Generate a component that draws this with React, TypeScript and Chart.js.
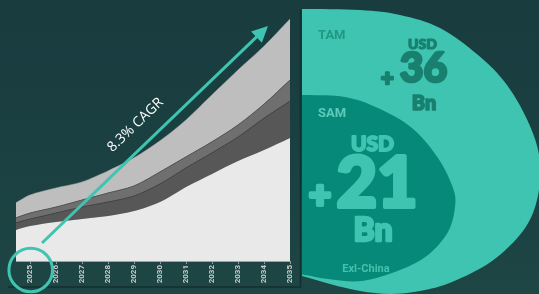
import React, { useEffect, useRef } from "react";
import { Chart, registerables } from "chart.js";

Chart.register(...registerables);

// ---- data ----
const years = [2024.46, 2025, 2026, 2027, 2028, 2029, 2030, 2031, 2032, 2033, 2034, 2035];
const tickYears = [2025, 2026, 2027, 2028, 2029, 2030, 2031, 2032, 2033, 2034, 2035];
const baseSeries = [12.4, 13.9, 15.5, 16.7, 17.9, 19.9, 23.5, 29.5, 34.7, 39.8, 44.2, 49.0];
const darkSeries = [2.8, 2.8, 3.6, 4.8, 5.6, 6.0, 7.2, 7.6, 8.4, 9.6, 12.7, 14.7];
const midSeries = [2.0, 2.4, 2.4, 2.8, 3.6, 4.0, 4.8, 4.4, 4.4, 4.8, 5.6, 8.4];
const lightSeries = [6.0, 7.2, 7.6, 7.2, 8.8, 11.2, 12.4, 14.7, 18.7, 21.9, 23.1, 24.3];

const cagrLabel = "8.3% CAGR";
const tamLabel = "TAM";
const tamValue = "36";
const samLabel = "SAM";
const samValue = "21";
const currencyLabel = "USD";
const unitLabel = "Bn";
const samNote = "Exl-China";

const TEAL = "#3fc4b1";
const DARK_TEAL = "#07897a";
const FONT = "Roboto, 'DejaVu Sans', sans-serif";
const HEAVY = "Lato, Roboto, sans-serif";

function smoothPath(ctx: CanvasRenderingContext2D, pts: number[][]) {
  ctx.moveTo(pts[0][0], pts[0][1]);
  for (let i = 0; i < pts.length - 1; i++) {
    const p0 = pts[Math.max(0, i - 1)];
    const p1 = pts[i];
    const p2 = pts[i + 1];
    const p3 = pts[Math.min(pts.length - 1, i + 2)];
    const t = 6;
    ctx.bezierCurveTo(
      p1[0] + (p2[0] - p0[0]) / t,
      p1[1] + (p2[1] - p0[1]) / t,
      p2[0] - (p3[0] - p1[0]) / t,
      p2[1] - (p3[1] - p1[1]) / t,
      p2[0],
      p2[1]
    );
  }
}

const outerPts = [
  [270, 9], [302, 9], [360, 10], [400, 15], [440, 28], [478, 55], [507, 85], [530, 126],
  [540, 162], [537, 200], [523, 231], [492, 261], [452, 282], [420, 291], [390, 294],
  [360, 291], [330, 284], [302, 276], [270, 268],
];
const innerPts = [
  [270, 95], [305, 95], [345, 97], [378, 108], [412, 128], [438, 158], [453, 188],
  [455, 207], [448, 232], [428, 255], [400, 270], [362, 281], [328, 279], [305, 275], [270, 270],
];

const decorPlugin = {
  id: "decor",
  afterDraw(chart: any) {
    const ctx: CanvasRenderingContext2D = chart.ctx;
    ctx.save();

    // frame lines
    ctx.strokeStyle = "#12302f";
    ctx.lineWidth = 1.5;
    ctx.beginPath();
    ctx.moveTo(300.5, 10);
    ctx.lineTo(300.5, 287);
    ctx.lineTo(8, 287);
    ctx.stroke();

    // TAM / SAM shapes
    ctx.save();
    ctx.beginPath();
    ctx.rect(302, 0, 240, 294);
    ctx.clip();
    ctx.fillStyle = TEAL;
    ctx.beginPath();
    smoothPath(ctx, outerPts);
    ctx.closePath();
    ctx.fill();
    ctx.fillStyle = DARK_TEAL;
    ctx.beginPath();
    smoothPath(ctx, innerPts);
    ctx.closePath();
    ctx.fill();
    ctx.restore();

    const txt = (
      s: string, x: number, y: number, font: string, color: string,
      align: CanvasTextAlign = "center", heavy = 0
    ) => {
      ctx.font = font;
      ctx.fillStyle = color;
      ctx.textAlign = align;
      ctx.textBaseline = "alphabetic";
      if (heavy > 0) {
        ctx.strokeStyle = color;
        ctx.lineWidth = heavy;
        ctx.lineJoin = "round";
        ctx.strokeText(s, x, y);
      }
      ctx.fillText(s, x, y);
    };

    // TAM texts
    const tamInk = "#19806f";
    txt(tamLabel, 318, 39, `bold 13px ${FONT}`, "#1f9884", "left");
    txt(currencyLabel, 422.5, 48.5, `900 14px ${HEAVY}`, tamInk, "center", 1.2);
    txt("+", 387.5, 86, `900 22px ${HEAVY}`, tamInk, "center", 2.5);
    txt(tamValue, 423.5, 82, `900 41px ${HEAVY}`, tamInk, "center", 2.6);
    txt(unitLabel, 424, 109.5, `900 20px ${HEAVY}`, tamInk, "center", 1.6);

    // SAM texts
    txt(samLabel, 318, 117, `bold 13px ${FONT}`, "#5ccbba", "left");
    txt(currencyLabel, 372.5, 150.5, `900 21px ${HEAVY}`, TEAL, "center", 1.8);
    txt("+", 320, 208, `900 38px ${HEAVY}`, TEAL, "center", 4);
    txt(samValue, 377, 206.5, `900 70px ${HEAVY}`, TEAL, "center", 4);
    txt(unitLabel, 373, 241, `900 32px ${HEAVY}`, TEAL, "center", 2.4);
    txt(samNote, 366, 272, `bold 11px ${FONT}`, "#46c0ad");

    // CAGR arrow
    const x0 = 42, y0 = 243, x1 = 268, y1 = 26;
    const ang = Math.atan2(y1 - y0, x1 - x0);
    const headLen = 16, headHalf = 7.8;
    const bx = x1 - headLen * Math.cos(ang);
    const by = y1 - headLen * Math.sin(ang);
    ctx.strokeStyle = TEAL;
    ctx.fillStyle = TEAL;
    ctx.lineWidth = 3;
    ctx.lineCap = "butt";
    ctx.beginPath();
    ctx.moveTo(x0, y0);
    ctx.lineTo(bx + 2 * Math.cos(ang), by + 2 * Math.sin(ang));
    ctx.stroke();
    ctx.beginPath();
    ctx.moveTo(x1, y1);
    ctx.lineTo(bx + headHalf * Math.sin(ang), by - headHalf * Math.cos(ang));
    ctx.lineTo(bx - headHalf * Math.sin(ang), by + headHalf * Math.cos(ang));
    ctx.closePath();
    ctx.fill();

    // circle around first year
    ctx.beginPath();
    ctx.arc(30.7, 270, 21.8, 0, Math.PI * 2);
    ctx.stroke();

    // CAGR label
    ctx.save();
    ctx.translate(135.5, 125);
    ctx.rotate(ang);
    ctx.font = `14px 'Open Sans', ${FONT}`;
    ctx.fillStyle = "#ffffff";
    ctx.textAlign = "center";
    ctx.textBaseline = "middle";
    ctx.fillText(cagrLabel, 0, 0);
    ctx.restore();

    ctx.restore();
  },
};

export default function App() {
  const ref = useRef<HTMLCanvasElement | null>(null);

  useEffect(() => {
    document.body.style.margin = "0";
    const canvas = ref.current;
    if (!canvas) return;
    const mk = (data: number[], bg: string, border: string, bw: number, fill: any) => ({
      data: years.map((x, i) => ({ x, y: data[i] })),
      backgroundColor: bg,
      borderColor: border,
      borderWidth: bw,
      fill,
      pointRadius: 0,
      tension: 0.3,
    });
    const chart = new Chart(canvas, {
      type: "line",
      data: {
        datasets: [
          mk(baseSeries, "#e9e9e9", "#e9e9e9", 0, "origin"),
          mk(darkSeries, "#575757", "#454545", 1, "-1"),
          mk(midSeries, "#6f6f6f", "#555555", 1, "-1"),
          mk(lightSeries, "#bebebe", "#b5b5b5", 0.5, "-1"),
        ] as any,
      },
      options: {
        animation: false,
        responsive: false,
        devicePixelRatio: 1,
        layout: { padding: { left: 16, right: 249, top: 10, bottom: 0 } },
        plugins: { legend: { display: false }, tooltip: { enabled: false } },
        scales: {
          x: {
            type: "linear",
            min: years[0],
            max: years[years.length - 1],
            afterBuildTicks: (scale: any) => {
              scale.ticks = tickYears.map((v) => ({ value: v }));
            },
            afterFit: (scale: any) => {
              scale.height = 33;
            },
            ticks: {
              minRotation: 90,
              maxRotation: 90,
              padding: 1,
              autoSkip: false,
              color: "#c5cfcf",
              font: { family: "Roboto", size: 8, weight: "bold" },
              callback: (v: any) => String(v),
            },
            grid: {
              display: true,
              drawOnChartArea: false,
              drawTicks: true,
              tickLength: 3,
              color: "#8e9a9a",
            },
            border: { display: true, color: "#9aa4a4", width: 1 },
          },
          y: {
            display: false,
            stacked: true,
            min: 0,
            max: 100,
          },
        },
      } as any,
      plugins: [decorPlugin],
    });
    return () => chart.destroy();
  }, []);

  return (
    <div
      style={{
        position: "fixed",
        left: 0,
        top: 0,
        width: 539,
        height: 294,
        background: "linear-gradient(180deg, #193c3f 0%, #1b4142 60%, #1e4644 100%)",
      }}
    >
      <canvas ref={ref} width={539} height={294} style={{ display: "block" }} />
    </div>
  );
}
